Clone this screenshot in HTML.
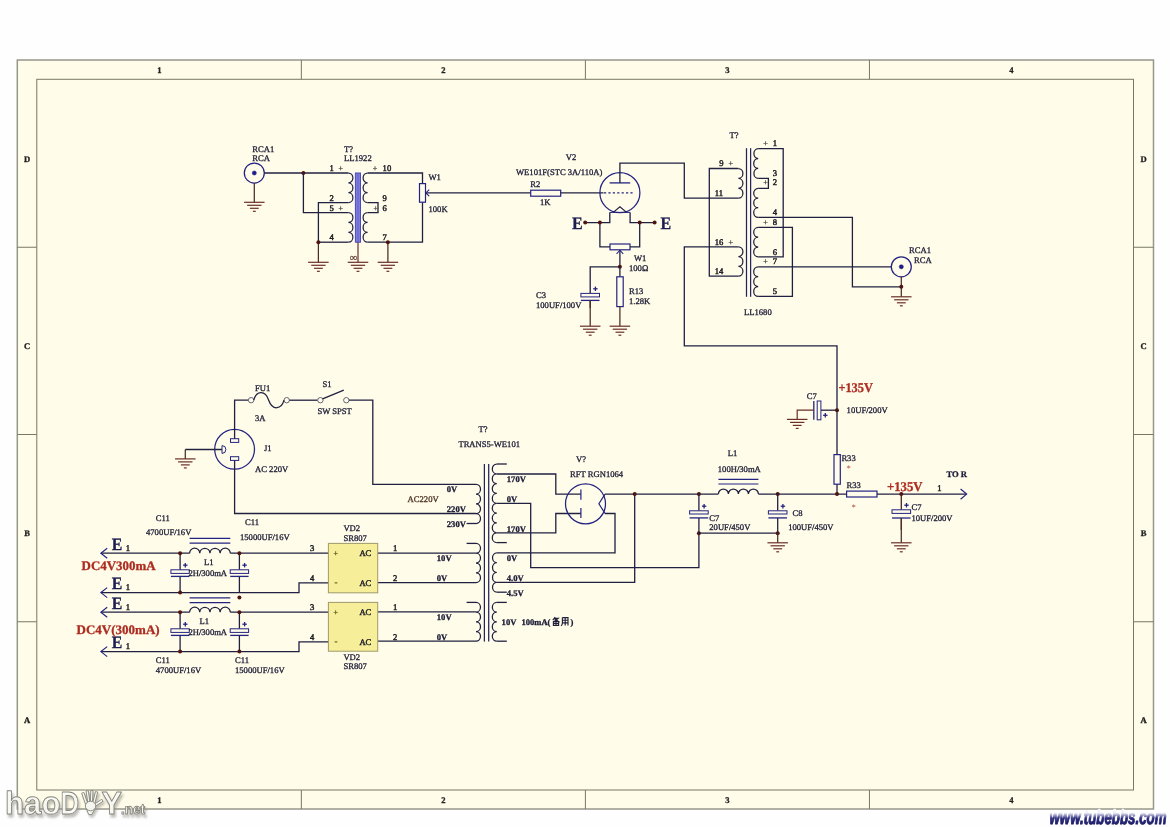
<!DOCTYPE html>
<html><head><meta charset="utf-8"><title>schematic</title>
<style>
html,body{margin:0;padding:0;background:#fefefe;}
body{width:1170px;height:827px;overflow:hidden;position:relative;font-family:"Liberation Serif",serif;}
svg{position:absolute;left:0;top:0;display:block;will-change:transform;}
</style></head><body>
<svg width="1170" height="827" viewBox="0 0 1170 827" shape-rendering="geometricPrecision" text-rendering="geometricPrecision">
<defs>
<linearGradient id="tg" x1="0" y1="0" x2="0" y2="1"><stop offset="0" stop-color="#ffffff"/><stop offset="0.3" stop-color="#ececf8"/><stop offset="0.52" stop-color="#2a2a7c"/><stop offset="1" stop-color="#14145a"/></linearGradient>
<filter id="sh" x="-10%" y="-20%" width="120%" height="150%"><feGaussianBlur stdDeviation="1.1"/></filter>
<g id="wm">
<text x="5" y="814.4" font-size="32" textLength="55.5" lengthAdjust="spacingAndGlyphs">hao</text>
<text x="60.4" y="814.4" font-size="32" textLength="18.5" lengthAdjust="spacingAndGlyphs">D</text>
<path d="M86.6,809.5 L88.8,814.6 L91.6,814.6 L94.6,809.5 Z"/>
<path d="M87.6,803.1 L83.9,792.4 L81.7,793.2 L85.4,803.9 Z M89.9,801.8 L88.3,790.6 L86.1,791.0 L87.7,802.2 Z M92.5,802.1 L93.0,790.7 L90.8,790.5 L90.3,801.9 Z M94.9,803.3 L97.7,792.1 L95.5,791.5 L92.7,802.7 Z M95.1,806.5 L103.0,801.2 L101.8,799.2 L93.9,804.5 Z" stroke-linejoin="round"/>
<ellipse cx="90.6" cy="806" rx="5.2" ry="4.8"/>
<text x="101.4" y="814.4" font-size="32" textLength="20.5" lengthAdjust="spacingAndGlyphs">Y</text>
<text x="121" y="814.4" font-size="14.5" textLength="24" lengthAdjust="spacingAndGlyphs">.net</text>
</g>
</defs>
<rect x="17.3" y="60" width="1136.2" height="749" fill="#fffce9" stroke="#97978b" stroke-width="1.5"/>
<rect x="36.8" y="79.3" width="1096.7" height="710.7" fill="none" stroke="#787868" stroke-width="1"/>
<line x1="301.35" y1="60" x2="301.35" y2="79.3" stroke="#787868" stroke-width="1"/>
<line x1="301.35" y1="790" x2="301.35" y2="809" stroke="#787868" stroke-width="1"/>
<line x1="17.3" y1="247.25" x2="36.8" y2="247.25" stroke="#787868" stroke-width="1"/>
<line x1="1133.5" y1="247.25" x2="1153.5" y2="247.25" stroke="#787868" stroke-width="1"/>
<line x1="585.4" y1="60" x2="585.4" y2="79.3" stroke="#787868" stroke-width="1"/>
<line x1="585.4" y1="790" x2="585.4" y2="809" stroke="#787868" stroke-width="1"/>
<line x1="17.3" y1="434.5" x2="36.8" y2="434.5" stroke="#787868" stroke-width="1"/>
<line x1="1133.5" y1="434.5" x2="1153.5" y2="434.5" stroke="#787868" stroke-width="1"/>
<line x1="869.45" y1="60" x2="869.45" y2="79.3" stroke="#787868" stroke-width="1"/>
<line x1="869.45" y1="790" x2="869.45" y2="809" stroke="#787868" stroke-width="1"/>
<line x1="17.3" y1="621.75" x2="36.8" y2="621.75" stroke="#787868" stroke-width="1"/>
<line x1="1133.5" y1="621.75" x2="1153.5" y2="621.75" stroke="#787868" stroke-width="1"/>
<text x="159.33" y="72.8" font-family="'Liberation Serif', serif" font-size="8.6" fill="#222" stroke="#222" stroke-width="0.3" font-weight="bold" text-anchor="middle" >1</text>
<text x="159.33" y="803.3" font-family="'Liberation Serif', serif" font-size="8.6" fill="#222" stroke="#222" stroke-width="0.3" font-weight="bold" text-anchor="middle" >1</text>
<text x="443.38" y="72.8" font-family="'Liberation Serif', serif" font-size="8.6" fill="#222" stroke="#222" stroke-width="0.3" font-weight="bold" text-anchor="middle" >2</text>
<text x="443.38" y="803.3" font-family="'Liberation Serif', serif" font-size="8.6" fill="#222" stroke="#222" stroke-width="0.3" font-weight="bold" text-anchor="middle" >2</text>
<text x="727.42" y="72.8" font-family="'Liberation Serif', serif" font-size="8.6" fill="#222" stroke="#222" stroke-width="0.3" font-weight="bold" text-anchor="middle" >3</text>
<text x="727.42" y="803.3" font-family="'Liberation Serif', serif" font-size="8.6" fill="#222" stroke="#222" stroke-width="0.3" font-weight="bold" text-anchor="middle" >3</text>
<text x="1011.48" y="72.8" font-family="'Liberation Serif', serif" font-size="8.6" fill="#222" stroke="#222" stroke-width="0.3" font-weight="bold" text-anchor="middle" >4</text>
<text x="1011.48" y="803.3" font-family="'Liberation Serif', serif" font-size="8.6" fill="#222" stroke="#222" stroke-width="0.3" font-weight="bold" text-anchor="middle" >4</text>
<text x="27" y="161.62" font-family="'Liberation Serif', serif" font-size="8.6" fill="#222" stroke="#222" stroke-width="0.3" font-weight="bold" text-anchor="middle" >D</text>
<text x="1143.5" y="161.62" font-family="'Liberation Serif', serif" font-size="8.6" fill="#222" stroke="#222" stroke-width="0.3" font-weight="bold" text-anchor="middle" >D</text>
<text x="27" y="348.88" font-family="'Liberation Serif', serif" font-size="8.6" fill="#222" stroke="#222" stroke-width="0.3" font-weight="bold" text-anchor="middle" >C</text>
<text x="1143.5" y="348.88" font-family="'Liberation Serif', serif" font-size="8.6" fill="#222" stroke="#222" stroke-width="0.3" font-weight="bold" text-anchor="middle" >C</text>
<text x="27" y="536.12" font-family="'Liberation Serif', serif" font-size="8.6" fill="#222" stroke="#222" stroke-width="0.3" font-weight="bold" text-anchor="middle" >B</text>
<text x="1143.5" y="536.12" font-family="'Liberation Serif', serif" font-size="8.6" fill="#222" stroke="#222" stroke-width="0.3" font-weight="bold" text-anchor="middle" >B</text>
<text x="27" y="723.38" font-family="'Liberation Serif', serif" font-size="8.6" fill="#222" stroke="#222" stroke-width="0.3" font-weight="bold" text-anchor="middle" >A</text>
<text x="1143.5" y="723.38" font-family="'Liberation Serif', serif" font-size="8.6" fill="#222" stroke="#222" stroke-width="0.3" font-weight="bold" text-anchor="middle" >A</text>
<circle cx="254.3" cy="173" r="10" fill="none" stroke="#232382" stroke-width="1.25"/>
<circle cx="254.3" cy="173" r="2.1" fill="#1c1c8c" stroke="#232382" stroke-width="0.5"/>
<line x1="254.3" y1="183" x2="254.3" y2="202.3" stroke="#4a2c28" stroke-width="1.25"/>
<line x1="244.05" y1="202.3" x2="264.55" y2="202.3" stroke="#6a2e26" stroke-width="1.2"/>
<line x1="247.12" y1="205.3" x2="261.48" y2="205.3" stroke="#6a2e26" stroke-width="1.2"/>
<line x1="249.89" y1="208.3" x2="258.71" y2="208.3" stroke="#6a2e26" stroke-width="1.2"/>
<line x1="252.87" y1="211.3" x2="255.74" y2="211.3" stroke="#6a2e26" stroke-width="1.2"/>
<polyline points="264.3,173 348.4,173" fill="none" stroke="#202042" stroke-width="1.3" />
<circle cx="303.4" cy="173" r="2.0" fill="#4e1410"/>
<polyline points="303.4,173 303.4,212.6 348.4,212.6" fill="none" stroke="#202042" stroke-width="1.3" />
<polyline points="348.4,202.6 318.4,202.6 318.4,242.2" fill="none" stroke="#202042" stroke-width="1.3" />
<polyline points="318.4,242.2 348.4,242.2" fill="none" stroke="#202042" stroke-width="1.3" />
<line x1="318.4" y1="242.2" x2="318.4" y2="262.3" stroke="#4a2c28" stroke-width="1.25"/>
<line x1="308.15" y1="262.3" x2="328.65" y2="262.3" stroke="#6a2e26" stroke-width="1.2"/>
<line x1="311.22" y1="265.3" x2="325.57" y2="265.3" stroke="#6a2e26" stroke-width="1.2"/>
<line x1="313.99" y1="268.3" x2="322.81" y2="268.3" stroke="#6a2e26" stroke-width="1.2"/>
<line x1="316.96" y1="271.3" x2="319.83" y2="271.3" stroke="#6a2e26" stroke-width="1.2"/>
<circle cx="318.4" cy="242.2" r="2.0" fill="#4e1410"/>
<path d="M348.4,173 A4.5,4.93 0 0 1 348.4,182.87 A4.5,4.93 0 0 1 348.4,192.73 A4.5,4.93 0 0 1 348.4,202.6" fill="none" stroke="#202042" stroke-width="1.25" />
<path d="M348.4,212.6 A4.5,4.93 0 0 1 348.4,222.47 A4.5,4.93 0 0 1 348.4,232.33 A4.5,4.93 0 0 1 348.4,242.2" fill="none" stroke="#202042" stroke-width="1.25" />
<rect x="355.4" y="173" width="5.1" height="69.2" fill="#7d7de0" stroke="#4a4ab8" stroke-width="1.0"/>
<line x1="358" y1="173" x2="358" y2="242.2" stroke="#5a5ac8" stroke-width="0.8"/>
<line x1="358" y1="242.2" x2="358" y2="262.3" stroke="#6a2e26" stroke-width="1.2"/>
<line x1="347.75" y1="262.3" x2="368.25" y2="262.3" stroke="#6a2e26" stroke-width="1.2"/>
<line x1="350.82" y1="265.3" x2="365.18" y2="265.3" stroke="#6a2e26" stroke-width="1.2"/>
<line x1="353.59" y1="268.3" x2="362.41" y2="268.3" stroke="#6a2e26" stroke-width="1.2"/>
<line x1="356.56" y1="271.3" x2="359.44" y2="271.3" stroke="#6a2e26" stroke-width="1.2"/>
<text x="349.8" y="261.4" font-family="'Liberation Serif', serif" font-size="10.5" fill="#5a3a34" stroke="#5a3a34" stroke-width="0.25" >∞</text>
<path d="M367.6,173 A4.5,4.93 0 0 0 367.6,182.87 A4.5,4.93 0 0 0 367.6,192.73 A4.5,4.93 0 0 0 367.6,202.6" fill="none" stroke="#202042" stroke-width="1.25" />
<path d="M367.6,212.6 A4.5,4.93 0 0 0 367.6,222.47 A4.5,4.93 0 0 0 367.6,232.33 A4.5,4.93 0 0 0 367.6,242.2" fill="none" stroke="#202042" stroke-width="1.25" />
<polyline points="367.6,173 422.5,173 422.5,183.6" fill="none" stroke="#202042" stroke-width="1.3" />
<polyline points="367.6,202.6 378,202.6 378,212.6 367.6,212.6" fill="none" stroke="#202042" stroke-width="1.3" />
<polyline points="367.6,242.2 422.5,242.2 422.5,202.2" fill="none" stroke="#202042" stroke-width="1.3" />
<line x1="387.9" y1="242.2" x2="387.9" y2="262.3" stroke="#4a2c28" stroke-width="1.25"/>
<line x1="377.65" y1="262.3" x2="398.15" y2="262.3" stroke="#6a2e26" stroke-width="1.2"/>
<line x1="380.72" y1="265.3" x2="395.07" y2="265.3" stroke="#6a2e26" stroke-width="1.2"/>
<line x1="383.49" y1="268.3" x2="392.31" y2="268.3" stroke="#6a2e26" stroke-width="1.2"/>
<line x1="386.46" y1="271.3" x2="389.33" y2="271.3" stroke="#6a2e26" stroke-width="1.2"/>
<circle cx="387.9" cy="242.2" r="2.0" fill="#4e1410"/>
<rect x="419.5" y="183.6" width="6" height="18.6" fill="#fffce9" stroke="#232382" stroke-width="1.2"/>
<polyline points="425.8,192.9 530.7,192.9" fill="none" stroke="#202042" stroke-width="1.3" />
<polyline points="429.2,189.6 425.8,192.9 429.2,196.2" fill="none" stroke="#232382" stroke-width="1.1" />
<rect x="530.7" y="190.2" width="30" height="6" fill="#fffce9" stroke="#232382" stroke-width="1.2"/>
<polyline points="560.7,192.9 603.5,192.9" fill="none" stroke="#202042" stroke-width="1.3" />
<text x="252.3" y="151.7" font-family="'Liberation Serif', serif" font-size="8.6" fill="#1c1c36" stroke="#1c1c36" stroke-width="0.3" >RCA1</text>
<text x="252.3" y="161.3" font-family="'Liberation Serif', serif" font-size="8.6" fill="#1c1c36" stroke="#1c1c36" stroke-width="0.3" >RCA</text>
<text x="344" y="151.7" font-family="'Liberation Serif', serif" font-size="8.6" fill="#1c1c36" stroke="#1c1c36" stroke-width="0.3" >T?</text>
<text x="344" y="161.3" font-family="'Liberation Serif', serif" font-size="8.6" fill="#1c1c36" stroke="#1c1c36" stroke-width="0.3" >LL1922</text>
<text x="329.5" y="171.2" font-family="'Liberation Serif', serif" font-size="8.6" fill="#1a1a22" stroke="#1a1a22" stroke-width="0.45" >1</text>
<text x="338.5" y="171" font-family="'Liberation Serif', serif" font-size="8" fill="#444" stroke="#444" stroke-width="0.3" >+</text>
<text x="329.5" y="200.8" font-family="'Liberation Serif', serif" font-size="8.6" fill="#1a1a22" stroke="#1a1a22" stroke-width="0.45" >2</text>
<text x="329.5" y="210.8" font-family="'Liberation Serif', serif" font-size="8.6" fill="#1a1a22" stroke="#1a1a22" stroke-width="0.45" >5</text>
<text x="338.5" y="210.6" font-family="'Liberation Serif', serif" font-size="8" fill="#444" stroke="#444" stroke-width="0.3" >+</text>
<text x="329.5" y="240.4" font-family="'Liberation Serif', serif" font-size="8.6" fill="#1a1a22" stroke="#1a1a22" stroke-width="0.45" >4</text>
<text x="372.8" y="171" font-family="'Liberation Serif', serif" font-size="8" fill="#444" stroke="#444" stroke-width="0.3" >+</text>
<text x="382.6" y="171.2" font-family="'Liberation Serif', serif" font-size="8.6" fill="#1a1a22" stroke="#1a1a22" stroke-width="0.45" >10</text>
<text x="382.6" y="200.8" font-family="'Liberation Serif', serif" font-size="8.6" fill="#1a1a22" stroke="#1a1a22" stroke-width="0.45" >9</text>
<text x="373.6" y="210.6" font-family="'Liberation Serif', serif" font-size="8" fill="#444" stroke="#444" stroke-width="0.3" >+</text>
<text x="382.6" y="210.8" font-family="'Liberation Serif', serif" font-size="8.6" fill="#1a1a22" stroke="#1a1a22" stroke-width="0.45" >6</text>
<text x="382.6" y="240.4" font-family="'Liberation Serif', serif" font-size="8.6" fill="#1a1a22" stroke="#1a1a22" stroke-width="0.45" >7</text>
<text x="428.5" y="180.2" font-family="'Liberation Serif', serif" font-size="8.6" fill="#1c1c36" stroke="#1c1c36" stroke-width="0.3" >W1</text>
<text x="428.5" y="211.6" font-family="'Liberation Serif', serif" font-size="8.6" fill="#1c1c36" stroke="#1c1c36" stroke-width="0.3" >100K</text>
<text x="565.8" y="160.2" font-family="'Liberation Serif', serif" font-size="8.6" fill="#1c1c36" stroke="#1c1c36" stroke-width="0.3" >V2</text>
<text x="516" y="175.2" font-family="'Liberation Serif', serif" font-size="8.6" fill="#1c1c36" stroke="#1c1c36" stroke-width="0.3" >WE101F(STC 3A/110A)</text>
<text x="530.3" y="187.4" font-family="'Liberation Serif', serif" font-size="8.6" fill="#1c1c36" stroke="#1c1c36" stroke-width="0.3" >R2</text>
<text x="540" y="204.6" font-family="'Liberation Serif', serif" font-size="8.6" fill="#1c1c36" stroke="#1c1c36" stroke-width="0.3" >1K</text>
<circle cx="619.9" cy="192.7" r="20" fill="none" stroke="#232382" stroke-width="1.25"/>
<line x1="609.6" y1="182.9" x2="630.2" y2="182.9" stroke="#232382" stroke-width="1.3"/>
<polyline points="619.9,182.9 619.9,163.1 684.3,163.1 684.3,198.2 738.4,198.2" fill="none" stroke="#202042" stroke-width="1.3" />
<line x1="604" y1="192.9" x2="634" y2="192.9" stroke="#232382" stroke-width="1.2" stroke-dasharray="2.2,2.2"/>
<polyline points="609.6,212.4 630.2,212.4" fill="none" stroke="#232382" stroke-width="1.0" />
<polyline points="613.2,212.4 619.9,206.7 626.6,212.4" fill="none" stroke="#202042" stroke-width="1.2" />
<polyline points="609.8,212.4 609.8,222.6 585.2,222.6" fill="none" stroke="#202042" stroke-width="1.3" />
<polyline points="630.1,212.4 630.1,222.6 654.6,222.6" fill="none" stroke="#202042" stroke-width="1.3" />
<polyline points="599.9,222.6 599.9,246.9 610,246.9" fill="none" stroke="#202042" stroke-width="1.3" />
<polyline points="639.7,222.6 639.7,246.9 630,246.9" fill="none" stroke="#202042" stroke-width="1.3" />
<rect x="610" y="244" width="20" height="5.8" fill="#fffce9" stroke="#232382" stroke-width="1.2"/>
<circle cx="585.2" cy="222.6" r="2.0" fill="#4e1410"/>
<circle cx="599.9" cy="222.6" r="2.0" fill="#4e1410"/>
<circle cx="639.7" cy="222.6" r="2.0" fill="#4e1410"/>
<circle cx="654.6" cy="222.6" r="2.0" fill="#4e1410"/>
<text x="572" y="228.6" font-family="'Liberation Serif', serif" font-size="17.4" fill="#1c1c50" stroke="#1c1c50" stroke-width="0.3" font-weight="bold" textLength="10.7" lengthAdjust="spacingAndGlyphs">E</text>
<text x="660.6" y="228.6" font-family="'Liberation Serif', serif" font-size="17.4" fill="#1c1c50" stroke="#1c1c50" stroke-width="0.3" font-weight="bold" textLength="10.7" lengthAdjust="spacingAndGlyphs">E</text>
<line x1="619.9" y1="250.2" x2="619.9" y2="266.8" stroke="#202042" stroke-width="1.3"/>
<polyline points="616.6,253.8 619.9,250.2 623.2,253.8" fill="none" stroke="#232382" stroke-width="1.1" />
<polyline points="619.9,266.8 590.2,266.8 590.2,291" fill="none" stroke="#202042" stroke-width="1.3" />
<circle cx="619.9" cy="266.8" r="2.0" fill="#4e1410"/>
<line x1="590.2" y1="291" x2="590.2" y2="293.4" stroke="#202042" stroke-width="1.3"/>
<line x1="590.2" y1="300.4" x2="590.2" y2="308" stroke="#50302a" stroke-width="1.3"/>
<rect x="580.9" y="293.4" width="18.6" height="3.5" fill="#fffce9" stroke="#232382" stroke-width="1.0"/>
<line x1="580.9" y1="300.4" x2="599.5" y2="300.4" stroke="#232382" stroke-width="1.3"/>
<line x1="593.2" y1="288.8" x2="597.6" y2="288.8" stroke="#232382" stroke-width="1.3"/>
<line x1="595.4" y1="286.6" x2="595.4" y2="291" stroke="#232382" stroke-width="1.3"/>
<line x1="590.2" y1="300.4" x2="590.2" y2="326.2" stroke="#4a2c28" stroke-width="1.25"/>
<line x1="579.95" y1="326.2" x2="600.45" y2="326.2" stroke="#6a2e26" stroke-width="1.2"/>
<line x1="583.03" y1="329.2" x2="597.38" y2="329.2" stroke="#6a2e26" stroke-width="1.2"/>
<line x1="585.79" y1="332.2" x2="594.61" y2="332.2" stroke="#6a2e26" stroke-width="1.2"/>
<line x1="588.77" y1="335.2" x2="591.63" y2="335.2" stroke="#6a2e26" stroke-width="1.2"/>
<line x1="619.9" y1="266.8" x2="619.9" y2="276.8" stroke="#202042" stroke-width="1.3"/>
<rect x="616.8" y="276.8" width="6.4" height="29.8" fill="#fffce9" stroke="#232382" stroke-width="1.2"/>
<line x1="619.9" y1="306.6" x2="619.9" y2="326.2" stroke="#4a2c28" stroke-width="1.25"/>
<line x1="609.65" y1="326.2" x2="630.15" y2="326.2" stroke="#6a2e26" stroke-width="1.2"/>
<line x1="612.73" y1="329.2" x2="627.07" y2="329.2" stroke="#6a2e26" stroke-width="1.2"/>
<line x1="615.49" y1="332.2" x2="624.31" y2="332.2" stroke="#6a2e26" stroke-width="1.2"/>
<line x1="618.47" y1="335.2" x2="621.33" y2="335.2" stroke="#6a2e26" stroke-width="1.2"/>
<text x="634" y="260.8" font-family="'Liberation Serif', serif" font-size="8.6" fill="#1c1c36" stroke="#1c1c36" stroke-width="0.3" >W1</text>
<text x="629" y="270.8" font-family="'Liberation Serif', serif" font-size="8.6" fill="#1c1c36" stroke="#1c1c36" stroke-width="0.3" >100Ω</text>
<text x="629" y="294.2" font-family="'Liberation Serif', serif" font-size="8.6" fill="#1c1c36" stroke="#1c1c36" stroke-width="0.3" >R13</text>
<text x="629" y="303.6" font-family="'Liberation Serif', serif" font-size="8.6" fill="#1c1c36" stroke="#1c1c36" stroke-width="0.3" >1.28K</text>
<text x="536" y="298.4" font-family="'Liberation Serif', serif" font-size="8.6" fill="#1c1c36" stroke="#1c1c36" stroke-width="0.3" >C3</text>
<text x="536" y="307.8" font-family="'Liberation Serif', serif" font-size="8.6" fill="#1c1c36" stroke="#1c1c36" stroke-width="0.3" >100UF/100V</text>
<line x1="746.5" y1="148.2" x2="746.5" y2="296.8" stroke="#23235e" stroke-width="1.25"/>
<line x1="750.6" y1="148.2" x2="750.6" y2="296.8" stroke="#23235e" stroke-width="1.25"/>
<path d="M738.4,168.5 A4.5,4.95 0 0 1 738.4,178.4 A4.5,4.95 0 0 1 738.4,188.3 A4.5,4.95 0 0 1 738.4,198.2" fill="none" stroke="#202042" stroke-width="1.25" />
<path d="M738.4,246.8 A4.5,4.9 0 0 1 738.4,256.6 A4.5,4.9 0 0 1 738.4,266.4 A4.5,4.9 0 0 1 738.4,276.2" fill="none" stroke="#202042" stroke-width="1.25" />
<polyline points="738.4,168.5 709.3,168.5 709.3,276.2 738.4,276.2" fill="none" stroke="#202042" stroke-width="1.3" />
<polyline points="738.4,246.8 684.3,246.8 684.3,345.8 837,345.8 837,454.6" fill="none" stroke="#202042" stroke-width="1.3" />
<path d="M758.2,148.6 A4.5,4.97 0 0 0 758.2,158.53 A4.5,4.97 0 0 0 758.2,168.47 A4.5,4.97 0 0 0 758.2,178.4" fill="none" stroke="#202042" stroke-width="1.25" />
<path d="M758.2,188.4 A4.5,4.83 0 0 0 758.2,198.07 A4.5,4.83 0 0 0 758.2,207.73 A4.5,4.83 0 0 0 758.2,217.4" fill="none" stroke="#202042" stroke-width="1.25" />
<path d="M758.2,227.4 A4.5,4.9 0 0 0 758.2,237.2 A4.5,4.9 0 0 0 758.2,247 A4.5,4.9 0 0 0 758.2,256.8" fill="none" stroke="#202042" stroke-width="1.25" />
<path d="M758.2,266.8 A4.5,4.93 0 0 0 758.2,276.67 A4.5,4.93 0 0 0 758.2,286.53 A4.5,4.93 0 0 0 758.2,296.4" fill="none" stroke="#202042" stroke-width="1.25" />
<polyline points="758.2,148.6 783.2,148.6 783.2,256.8 758.2,256.8" fill="none" stroke="#202042" stroke-width="1.3" />
<polyline points="758.2,178.4 768.4,178.4 768.4,188.4 758.2,188.4" fill="none" stroke="#202042" stroke-width="1.3" />
<polyline points="758.2,217.4 852.4,217.4 852.4,286.8 901.3,286.8" fill="none" stroke="#202042" stroke-width="1.3" />
<polyline points="758.2,227.4 792.4,227.4 792.4,296.4 758.2,296.4" fill="none" stroke="#202042" stroke-width="1.3" />
<polyline points="758.2,266.8 891.3,266.8" fill="none" stroke="#202042" stroke-width="1.3" />
<circle cx="901.3" cy="266.8" r="10" fill="none" stroke="#232382" stroke-width="1.25"/>
<circle cx="901.3" cy="266.8" r="2.1" fill="#1c1c8c" stroke="#232382" stroke-width="0.5"/>
<line x1="901.3" y1="276.8" x2="901.3" y2="296.8" stroke="#4a2c28" stroke-width="1.25"/>
<line x1="891.05" y1="296.8" x2="911.55" y2="296.8" stroke="#6a2e26" stroke-width="1.2"/>
<line x1="894.12" y1="299.8" x2="908.47" y2="299.8" stroke="#6a2e26" stroke-width="1.2"/>
<line x1="896.89" y1="302.8" x2="905.71" y2="302.8" stroke="#6a2e26" stroke-width="1.2"/>
<line x1="899.87" y1="305.8" x2="902.73" y2="305.8" stroke="#6a2e26" stroke-width="1.2"/>
<circle cx="901.3" cy="286.8" r="2.0" fill="#4e1410"/>
<text x="729.4" y="137.8" font-family="'Liberation Serif', serif" font-size="8.6" fill="#1c1c36" stroke="#1c1c36" stroke-width="0.3" >T?</text>
<text x="744" y="315.2" font-family="'Liberation Serif', serif" font-size="8.6" fill="#1c1c36" stroke="#1c1c36" stroke-width="0.3" >LL1680</text>
<text x="772.8" y="146" font-family="'Liberation Serif', serif" font-size="8.6" fill="#1a1a22" stroke="#1a1a22" stroke-width="0.45" >1</text>
<text x="763.2" y="145.8" font-family="'Liberation Serif', serif" font-size="8" fill="#444" stroke="#444" stroke-width="0.3" >+</text>
<text x="772.8" y="175.8" font-family="'Liberation Serif', serif" font-size="8.6" fill="#1a1a22" stroke="#1a1a22" stroke-width="0.45" >3</text>
<text x="772.8" y="185.2" font-family="'Liberation Serif', serif" font-size="8.6" fill="#1a1a22" stroke="#1a1a22" stroke-width="0.45" >2</text>
<text x="763.2" y="185" font-family="'Liberation Serif', serif" font-size="8" fill="#444" stroke="#444" stroke-width="0.3" >+</text>
<text x="772.8" y="215" font-family="'Liberation Serif', serif" font-size="8.6" fill="#1a1a22" stroke="#1a1a22" stroke-width="0.45" >4</text>
<text x="772.8" y="225" font-family="'Liberation Serif', serif" font-size="8.6" fill="#1a1a22" stroke="#1a1a22" stroke-width="0.45" >8</text>
<text x="763.2" y="224.8" font-family="'Liberation Serif', serif" font-size="8" fill="#444" stroke="#444" stroke-width="0.3" >+</text>
<text x="772.8" y="255" font-family="'Liberation Serif', serif" font-size="8.6" fill="#1a1a22" stroke="#1a1a22" stroke-width="0.45" >6</text>
<text x="772.8" y="264.4" font-family="'Liberation Serif', serif" font-size="8.6" fill="#1a1a22" stroke="#1a1a22" stroke-width="0.45" >7</text>
<text x="763.2" y="264.2" font-family="'Liberation Serif', serif" font-size="8" fill="#444" stroke="#444" stroke-width="0.3" >+</text>
<text x="772.8" y="294.4" font-family="'Liberation Serif', serif" font-size="8.6" fill="#1a1a22" stroke="#1a1a22" stroke-width="0.45" >5</text>
<text x="719.2" y="165.8" font-family="'Liberation Serif', serif" font-size="8.6" fill="#1a1a22" stroke="#1a1a22" stroke-width="0.45" >9</text>
<text x="728.4" y="165.6" font-family="'Liberation Serif', serif" font-size="8" fill="#444" stroke="#444" stroke-width="0.3" >+</text>
<text x="714.8" y="195.6" font-family="'Liberation Serif', serif" font-size="8.6" fill="#1a1a22" stroke="#1a1a22" stroke-width="0.45" >11</text>
<text x="714.8" y="245" font-family="'Liberation Serif', serif" font-size="8.6" fill="#1a1a22" stroke="#1a1a22" stroke-width="0.45" >16</text>
<text x="728.4" y="244.8" font-family="'Liberation Serif', serif" font-size="8" fill="#444" stroke="#444" stroke-width="0.3" >+</text>
<text x="714.8" y="274.4" font-family="'Liberation Serif', serif" font-size="8.6" fill="#1a1a22" stroke="#1a1a22" stroke-width="0.45" >14</text>
<text x="909" y="252.8" font-family="'Liberation Serif', serif" font-size="8.6" fill="#1c1c36" stroke="#1c1c36" stroke-width="0.3" >RCA1</text>
<text x="914" y="262.8" font-family="'Liberation Serif', serif" font-size="8.6" fill="#1c1c36" stroke="#1c1c36" stroke-width="0.3" >RCA</text>
<text x="838.4" y="392.3" font-family="'Liberation Serif', serif" font-size="13.4" fill="#ad2c22" stroke="#ad2c22" stroke-width="0.3" font-weight="bold" textLength="34.5" lengthAdjust="spacingAndGlyphs">+135V</text>
<polyline points="837,410.2 821,410.2" fill="none" stroke="#202042" stroke-width="1.3" />
<rect x="817.2" y="401" width="3.7" height="18.8" fill="#fffce9" stroke="#232382" stroke-width="1.0"/>
<line x1="813.8" y1="401" x2="813.8" y2="419.8" stroke="#232382" stroke-width="1.3"/>
<polyline points="813.8,410.2 797.2,410.2 797.2,419.4" fill="none" stroke="#6a2e26" stroke-width="1.2" />
<line x1="786.95" y1="419.4" x2="807.45" y2="419.4" stroke="#6a2e26" stroke-width="1.2"/>
<line x1="790.03" y1="422.4" x2="804.38" y2="422.4" stroke="#6a2e26" stroke-width="1.2"/>
<line x1="792.79" y1="425.4" x2="801.61" y2="425.4" stroke="#6a2e26" stroke-width="1.2"/>
<line x1="795.77" y1="428.4" x2="798.63" y2="428.4" stroke="#6a2e26" stroke-width="1.2"/>
<circle cx="837" cy="410.2" r="2.0" fill="#4e1410"/>
<line x1="823.1" y1="415.3" x2="827.5" y2="415.3" stroke="#232382" stroke-width="1.3"/>
<line x1="825.3" y1="413.1" x2="825.3" y2="417.5" stroke="#232382" stroke-width="1.3"/>
<text x="806.8" y="398.6" font-family="'Liberation Serif', serif" font-size="8.6" fill="#1c1c36" stroke="#1c1c36" stroke-width="0.3" >C7</text>
<text x="846.6" y="413" font-family="'Liberation Serif', serif" font-size="8.6" fill="#1c1c36" stroke="#1c1c36" stroke-width="0.3" >10UF/200V</text>
<rect x="834" y="454.6" width="6.3" height="29.6" fill="#fffce9" stroke="#232382" stroke-width="1.2"/>
<line x1="837" y1="484.2" x2="837" y2="494.1" stroke="#202042" stroke-width="1.3"/>
<text x="841.4" y="460.8" font-family="'Liberation Serif', serif" font-size="8.6" fill="#1c1c36" stroke="#1c1c36" stroke-width="0.3" >R33</text>
<text x="846.4" y="470.6" font-family="'Liberation Serif', serif" font-size="8.5" fill="#c0604e" stroke="#c0604e" stroke-width="0.1" >*</text>
<text x="846.6" y="487.6" font-family="'Liberation Serif', serif" font-size="8.6" fill="#1c1c36" stroke="#1c1c36" stroke-width="0.3" >R33</text>
<text x="851.4" y="510" font-family="'Liberation Serif', serif" font-size="8.5" fill="#c0604e" stroke="#c0604e" stroke-width="0.1" >*</text>
<circle cx="234.6" cy="449.3" r="19.9" fill="none" stroke="#232382" stroke-width="1.25"/>
<rect x="230.5" y="438.7" width="8.2" height="3.7" fill="#fffce9" stroke="#232382" stroke-width="1.0"/>
<rect x="230.5" y="456.7" width="8.2" height="3.7" fill="#fffce9" stroke="#232382" stroke-width="1.0"/>
<path d="M222,445.6 L222,453.4 A3.9,3.9 0 0 0 222,445.6 Z" fill="#fffce9" stroke="#232382" stroke-width="1.0" />
<polyline points="222,449.5 185.3,449.5" fill="none" stroke="#202042" stroke-width="1.3" />
<line x1="185.3" y1="449.5" x2="185.3" y2="458.9" stroke="#4a2c28" stroke-width="1.25"/>
<line x1="175.05" y1="458.9" x2="195.55" y2="458.9" stroke="#6a2e26" stroke-width="1.2"/>
<line x1="178.12" y1="461.9" x2="192.48" y2="461.9" stroke="#6a2e26" stroke-width="1.2"/>
<line x1="180.89" y1="464.9" x2="189.71" y2="464.9" stroke="#6a2e26" stroke-width="1.2"/>
<line x1="183.87" y1="467.9" x2="186.74" y2="467.9" stroke="#6a2e26" stroke-width="1.2"/>
<polyline points="234.6,438.7 234.6,400.2 248.4,400.2" fill="none" stroke="#202042" stroke-width="1.3" />
<polyline points="234.6,460.4 234.6,513.5 476,513.5" fill="none" stroke="#202042" stroke-width="1.3" />
<circle cx="251.1" cy="400.2" r="2.7" fill="#fffce9" stroke="#55556a" stroke-width="0.9"/>
<circle cx="286.7" cy="400.2" r="2.7" fill="#fffce9" stroke="#55556a" stroke-width="0.9"/>
<path d="M253.8,400.2 C256,391 265,389.5 268.7,400.2 C272.5,411 281.5,409.5 284,400.2" fill="none" stroke="#202042" stroke-width="1.25" />
<polyline points="289.4,400.2 317.7,400.2" fill="none" stroke="#202042" stroke-width="1.3" />
<circle cx="320.4" cy="400.2" r="2.7" fill="#fffce9" stroke="#55556a" stroke-width="0.9"/>
<circle cx="346.3" cy="400.2" r="2.7" fill="#fffce9" stroke="#55556a" stroke-width="0.9"/>
<line x1="322.6" y1="398.8" x2="343.8" y2="390.1" stroke="#202042" stroke-width="1.3"/>
<polyline points="349,400.2 372.8,400.2 372.8,484.3 476,484.3" fill="none" stroke="#202042" stroke-width="1.3" />
<text x="255" y="390.6" font-family="'Liberation Serif', serif" font-size="8.6" fill="#1c1c36" stroke="#1c1c36" stroke-width="0.3" >FU1</text>
<text x="255" y="421" font-family="'Liberation Serif', serif" font-size="8.6" fill="#1c1c36" stroke="#1c1c36" stroke-width="0.3" >3A</text>
<text x="322.4" y="387.4" font-family="'Liberation Serif', serif" font-size="8.6" fill="#1c1c36" stroke="#1c1c36" stroke-width="0.3" >S1</text>
<text x="317.4" y="414.4" font-family="'Liberation Serif', serif" font-size="8.6" fill="#1c1c36" stroke="#1c1c36" stroke-width="0.3" >SW SPST</text>
<text x="264" y="451.2" font-family="'Liberation Serif', serif" font-size="8.6" fill="#1c1c36" stroke="#1c1c36" stroke-width="0.3" >J1</text>
<text x="255" y="471.6" font-family="'Liberation Serif', serif" font-size="8.6" fill="#1c1c36" stroke="#1c1c36" stroke-width="0.3" >AC 220V</text>
<text x="407.6" y="501.8" font-family="'Liberation Serif', serif" font-size="8.6" fill="#4e3426" stroke="#4e3426" stroke-width="0.3" >AC220V</text>
<line x1="484.4" y1="464" x2="484.4" y2="641.6" stroke="#23235e" stroke-width="1.25"/>
<line x1="488.7" y1="464" x2="488.7" y2="641.6" stroke="#23235e" stroke-width="1.25"/>
<path d="M476,484.3 A4.5,4.9 0 0 1 476,494.1 A4.5,4.9 0 0 1 476,503.9 A4.5,4.9 0 0 1 476,513.7 A4.5,4.9 0 0 1 476,523.5" fill="none" stroke="#202042" stroke-width="1.25" />
<polyline points="466.6,523.5 476,523.5" fill="none" stroke="#202042" stroke-width="1.3" />
<path d="M476,543.4 A4.5,4.9 0 0 1 476,553.2 A4.5,4.9 0 0 1 476,563 A4.5,4.9 0 0 1 476,572.8 A4.5,4.9 0 0 1 476,582.6" fill="none" stroke="#202042" stroke-width="1.25" />
<polyline points="466.6,543.4 476,543.4" fill="none" stroke="#202042" stroke-width="1.3" />
<path d="M476,602.4 A4.5,4.85 0 0 1 476,612.1 A4.5,4.85 0 0 1 476,621.8 A4.5,4.85 0 0 1 476,631.5 A4.5,4.85 0 0 1 476,641.2" fill="none" stroke="#202042" stroke-width="1.25" />
<polyline points="466.6,602.4 476,602.4" fill="none" stroke="#202042" stroke-width="1.3" />
<polyline points="377.7,553.2 476,553.2" fill="none" stroke="#202042" stroke-width="1.3" />
<polyline points="377.7,582.6 476,582.6" fill="none" stroke="#202042" stroke-width="1.3" />
<polyline points="377.7,611.8 476,611.8" fill="none" stroke="#202042" stroke-width="1.3" />
<polyline points="377.7,641.2 476,641.2" fill="none" stroke="#202042" stroke-width="1.3" />
<path d="M496.8,464 A4.5,4.91 0 0 0 496.8,473.82 A4.5,4.91 0 0 0 496.8,483.65 A4.5,4.91 0 0 0 496.8,493.48 A4.5,4.91 0 0 0 496.8,503.3 A4.5,4.91 0 0 0 496.8,513.12 A4.5,4.91 0 0 0 496.8,522.95 A4.5,4.91 0 0 0 496.8,532.77 A4.5,4.91 0 0 0 496.8,542.6" fill="none" stroke="#202042" stroke-width="1.25" />
<polyline points="496.8,464 506.8,464" fill="none" stroke="#202042" stroke-width="1.3" />
<polyline points="496.8,542.6 506.8,542.6" fill="none" stroke="#202042" stroke-width="1.3" />
<polyline points="496.8,474 555.8,474 555.8,494.1 580.9,494.1" fill="none" stroke="#202042" stroke-width="1.3" />
<polyline points="496.8,532.8 555.8,532.8 555.8,513.5 580.9,513.5" fill="none" stroke="#202042" stroke-width="1.3" />
<polyline points="496.8,503.4 530.7,503.4 530.7,567.6 698.9,567.6 698.9,533.2" fill="none" stroke="#202042" stroke-width="1.3" />
<path d="M496.8,552.8 A4.5,4.93 0 0 0 496.8,562.65 A4.5,4.93 0 0 0 496.8,572.5 A4.5,4.93 0 0 0 496.8,582.35 A4.5,4.93 0 0 0 496.8,592.2" fill="none" stroke="#202042" stroke-width="1.25" />
<polyline points="496.8,552.8 615,552.8 615,513.5 605,513.5" fill="none" stroke="#202042" stroke-width="1.3" />
<polyline points="496.8,582.4 634.7,582.4 634.7,494.1" fill="none" stroke="#202042" stroke-width="1.3" />
<polyline points="496.8,592.2 506.8,592.2" fill="none" stroke="#202042" stroke-width="1.3" />
<path d="M496.8,602.4 A4.5,4.85 0 0 0 496.8,612.1 A4.5,4.85 0 0 0 496.8,621.8 A4.5,4.85 0 0 0 496.8,631.5 A4.5,4.85 0 0 0 496.8,641.2" fill="none" stroke="#202042" stroke-width="1.25" />
<polyline points="496.8,602.4 506.8,602.4" fill="none" stroke="#202042" stroke-width="1.3" />
<polyline points="496.8,641.2 506.8,641.2" fill="none" stroke="#202042" stroke-width="1.3" />
<text x="478.4" y="432.4" font-family="'Liberation Serif', serif" font-size="8.6" fill="#1c1c36" stroke="#1c1c36" stroke-width="0.3" >T?</text>
<text x="458.4" y="447.4" font-family="'Liberation Serif', serif" font-size="8.6" fill="#1c1c36" stroke="#1c1c36" stroke-width="0.3" >TRANS5-WE101</text>
<text x="506.8" y="482.4" font-family="'Liberation Serif', serif" font-size="8.6" fill="#20203a" stroke="#20203a" stroke-width="0.3" font-weight="bold" >170V</text>
<text x="506.8" y="501.6" font-family="'Liberation Serif', serif" font-size="8.6" fill="#20203a" stroke="#20203a" stroke-width="0.3" font-weight="bold" >0V</text>
<text x="506.8" y="531.8" font-family="'Liberation Serif', serif" font-size="8.6" fill="#20203a" stroke="#20203a" stroke-width="0.3" font-weight="bold" >170V</text>
<text x="506.8" y="561.2" font-family="'Liberation Serif', serif" font-size="8.6" fill="#20203a" stroke="#20203a" stroke-width="0.3" font-weight="bold" >0V</text>
<text x="506.8" y="580.6" font-family="'Liberation Serif', serif" font-size="8.6" fill="#20203a" stroke="#20203a" stroke-width="0.3" font-weight="bold" >4.0V</text>
<text x="506.8" y="595.8" font-family="'Liberation Serif', serif" font-size="8.6" fill="#20203a" stroke="#20203a" stroke-width="0.3" font-weight="bold" >4.5V</text>
<text x="501.6" y="625" font-family="'Liberation Serif', serif" font-size="8.6" fill="#20203a" stroke="#20203a" stroke-width="0.3" font-weight="bold" >10V</text>
<text x="521.6" y="625" font-family="'Liberation Serif', serif" font-size="8.6" fill="#20203a" stroke="#20203a" stroke-width="0.3" font-weight="bold" textLength="26" lengthAdjust="spacingAndGlyphs">100mA</text>
<text x="547.6" y="624.6" font-family="'Liberation Serif', serif" font-size="8.6" fill="#20203a" stroke="#20203a" stroke-width="0.3" font-weight="bold" >(</text>
<text x="570.6" y="625" font-family="'Liberation Serif', serif" font-size="8.6" fill="#20203a" stroke="#20203a" stroke-width="0.3" font-weight="bold" >)</text>
<text x="446.8" y="492.4" font-family="'Liberation Serif', serif" font-size="8.6" fill="#20203a" stroke="#20203a" stroke-width="0.3" font-weight="bold" >0V</text>
<text x="446.8" y="511.6" font-family="'Liberation Serif', serif" font-size="8.6" fill="#20203a" stroke="#20203a" stroke-width="0.3" font-weight="bold" >220V</text>
<text x="446.8" y="526.8" font-family="'Liberation Serif', serif" font-size="8.6" fill="#20203a" stroke="#20203a" stroke-width="0.3" font-weight="bold" >230V</text>
<text x="436.8" y="561.2" font-family="'Liberation Serif', serif" font-size="8.6" fill="#20203a" stroke="#20203a" stroke-width="0.3" font-weight="bold" >10V</text>
<text x="436.8" y="580.6" font-family="'Liberation Serif', serif" font-size="8.6" fill="#20203a" stroke="#20203a" stroke-width="0.3" font-weight="bold" >0V</text>
<text x="436.8" y="620.2" font-family="'Liberation Serif', serif" font-size="8.6" fill="#20203a" stroke="#20203a" stroke-width="0.3" font-weight="bold" >10V</text>
<text x="436.8" y="639.8" font-family="'Liberation Serif', serif" font-size="8.6" fill="#20203a" stroke="#20203a" stroke-width="0.3" font-weight="bold" >0V</text>
<text x="393" y="551" font-family="'Liberation Serif', serif" font-size="8.6" fill="#1a1a22" stroke="#1a1a22" stroke-width="0.45" >1</text>
<text x="393" y="580.6" font-family="'Liberation Serif', serif" font-size="8.6" fill="#1a1a22" stroke="#1a1a22" stroke-width="0.45" >2</text>
<text x="393" y="610.2" font-family="'Liberation Serif', serif" font-size="8.6" fill="#1a1a22" stroke="#1a1a22" stroke-width="0.45" >1</text>
<text x="393" y="639.6" font-family="'Liberation Serif', serif" font-size="8.6" fill="#1a1a22" stroke="#1a1a22" stroke-width="0.45" >2</text>
<path d="M555.2,617.2 l-2.4,3 M554.8,618.4 h3.4 l-4.6,3.6 M554.6,618.8 l4.8,3.4" fill="none" stroke="#20203a" stroke-width="1.15" />
<path d="M553.4,621.6 h5.2 v3.8 h-5.2 z M553.4,623.5 h5.2 M556,621.6 v3.8" fill="none" stroke="#20203a" stroke-width="1.15" />
<path d="M562.4,617.6 v5.4 q0,2 -1.4,2.8 M562.4,617.6 h5.6 v8 M562.4,620.2 h5.6 M562.4,622.8 h5.6 M565.2,617.6 v8" fill="none" stroke="#20203a" stroke-width="1.15" />
<circle cx="585.5" cy="503.8" r="20" fill="none" stroke="#232382" stroke-width="1.25"/>
<line x1="580.9" y1="489.6" x2="580.9" y2="499.8" stroke="#232382" stroke-width="1.2"/>
<line x1="580.9" y1="508" x2="580.9" y2="518" stroke="#232382" stroke-width="1.2"/>
<polyline points="605,494.1 598.9,503.7 605,513.5" fill="none" stroke="#232382" stroke-width="1.2" />
<text x="576" y="462.4" font-family="'Liberation Serif', serif" font-size="8.6" fill="#1c1c36" stroke="#1c1c36" stroke-width="0.3" >V?</text>
<text x="570" y="476.8" font-family="'Liberation Serif', serif" font-size="8.6" fill="#1c1c36" stroke="#1c1c36" stroke-width="0.3" >RFT RGN1064</text>
<polyline points="605,494.1 718.4,494.1" fill="none" stroke="#202042" stroke-width="1.3" />
<circle cx="634.7" cy="494.1" r="2.0" fill="#4e1410"/>
<circle cx="698.9" cy="494.1" r="2.0" fill="#4e1410"/>
<line x1="698.9" y1="494.1" x2="698.9" y2="510.8" stroke="#202042" stroke-width="1.3"/>
<line x1="698.9" y1="517.9" x2="698.9" y2="533.2" stroke="#202042" stroke-width="1.3"/>
<rect x="689.6" y="510.8" width="18.6" height="3.2" fill="#fffce9" stroke="#232382" stroke-width="1.0"/>
<line x1="689.6" y1="517.9" x2="708.2" y2="517.9" stroke="#232382" stroke-width="1.3"/>
<line x1="701.9" y1="506.2" x2="706.3" y2="506.2" stroke="#232382" stroke-width="1.3"/>
<line x1="704.1" y1="504" x2="704.1" y2="508.4" stroke="#232382" stroke-width="1.3"/>
<circle cx="698.9" cy="533.2" r="2.0" fill="#4e1410"/>
<polyline points="698.9,533.2 777.7,533.2" fill="none" stroke="#202042" stroke-width="1.3" />
<text x="709.3" y="520.6" font-family="'Liberation Serif', serif" font-size="8.6" fill="#1c1c36" stroke="#1c1c36" stroke-width="0.3" >C7</text>
<text x="709.3" y="530.2" font-family="'Liberation Serif', serif" font-size="8.6" fill="#1c1c36" stroke="#1c1c36" stroke-width="0.3" >20UF/450V</text>
<path d="M718.4,494.1 A5,5 0 0 1 728.4,494.1 A5,5 0 0 1 738.4,494.1 A5,5 0 0 1 748.4,494.1 A5,5 0 0 1 758.4,494.1" fill="none" stroke="#202042" stroke-width="1.25" />
<line x1="718.4" y1="479.4" x2="758.4" y2="479.4" stroke="#232382" stroke-width="1.2"/>
<line x1="718.4" y1="484" x2="758.4" y2="484" stroke="#232382" stroke-width="1.2"/>
<text x="727.8" y="455.8" font-family="'Liberation Serif', serif" font-size="8.6" fill="#1c1c36" stroke="#1c1c36" stroke-width="0.3" >L1</text>
<text x="717.8" y="471.8" font-family="'Liberation Serif', serif" font-size="8.6" fill="#1c1c36" stroke="#1c1c36" stroke-width="0.3" >100H/30mA</text>
<polyline points="758.4,494.1 846.6,494.1" fill="none" stroke="#202042" stroke-width="1.3" />
<circle cx="777.7" cy="494.1" r="2.0" fill="#4e1410"/>
<line x1="777.7" y1="494.1" x2="777.7" y2="510.8" stroke="#202042" stroke-width="1.3"/>
<line x1="777.7" y1="517.9" x2="777.7" y2="533.2" stroke="#202042" stroke-width="1.3"/>
<rect x="768.4" y="510.8" width="18.6" height="3.2" fill="#fffce9" stroke="#232382" stroke-width="1.0"/>
<line x1="768.4" y1="517.9" x2="787" y2="517.9" stroke="#232382" stroke-width="1.3"/>
<line x1="780.7" y1="506.2" x2="785.1" y2="506.2" stroke="#232382" stroke-width="1.3"/>
<line x1="782.9" y1="504" x2="782.9" y2="508.4" stroke="#232382" stroke-width="1.3"/>
<circle cx="777.7" cy="533.2" r="2.0" fill="#4e1410"/>
<line x1="777.7" y1="533.2" x2="777.7" y2="542.8" stroke="#4a2c28" stroke-width="1.25"/>
<line x1="767.45" y1="542.8" x2="787.95" y2="542.8" stroke="#6a2e26" stroke-width="1.2"/>
<line x1="770.53" y1="545.8" x2="784.88" y2="545.8" stroke="#6a2e26" stroke-width="1.2"/>
<line x1="773.29" y1="548.8" x2="782.11" y2="548.8" stroke="#6a2e26" stroke-width="1.2"/>
<line x1="776.27" y1="551.8" x2="779.13" y2="551.8" stroke="#6a2e26" stroke-width="1.2"/>
<text x="792.6" y="515.6" font-family="'Liberation Serif', serif" font-size="8.6" fill="#1c1c36" stroke="#1c1c36" stroke-width="0.3" >C8</text>
<text x="788.2" y="530.2" font-family="'Liberation Serif', serif" font-size="8.6" fill="#1c1c36" stroke="#1c1c36" stroke-width="0.3" >100UF/450V</text>
<circle cx="837" cy="494.1" r="2.0" fill="#4e1410"/>
<rect x="846.6" y="491.1" width="30.4" height="5.9" fill="#fffce9" stroke="#232382" stroke-width="1.2"/>
<polyline points="877,494.1 966.4,494.1" fill="none" stroke="#202042" stroke-width="1.3" />
<polyline points="960.6,489 966.6,494.1 960.6,499.2" fill="none" stroke="#232382" stroke-width="1.2" />
<text x="887" y="491.2" font-family="'Liberation Serif', serif" font-size="13.4" fill="#ad2c22" stroke="#ad2c22" stroke-width="0.3" font-weight="bold" textLength="35.5" lengthAdjust="spacingAndGlyphs">+135V</text>
<circle cx="901.3" cy="494.1" r="2.0" fill="#4e1410"/>
<line x1="901.3" y1="494.1" x2="901.3" y2="509.8" stroke="#4a2220" stroke-width="1.3"/>
<line x1="901.3" y1="518" x2="901.3" y2="530" stroke="#6a2e26" stroke-width="1.3"/>
<rect x="892" y="509.8" width="18.6" height="3.6" fill="#fffce9" stroke="#232382" stroke-width="1.0"/>
<line x1="892" y1="518" x2="910.6" y2="518" stroke="#232382" stroke-width="1.3"/>
<line x1="904.3" y1="505.2" x2="908.7" y2="505.2" stroke="#232382" stroke-width="1.3"/>
<line x1="906.5" y1="503" x2="906.5" y2="507.4" stroke="#232382" stroke-width="1.3"/>
<line x1="901.3" y1="518" x2="901.3" y2="542.8" stroke="#4a2c28" stroke-width="1.25"/>
<line x1="891.05" y1="542.8" x2="911.55" y2="542.8" stroke="#6a2e26" stroke-width="1.2"/>
<line x1="894.12" y1="545.8" x2="908.47" y2="545.8" stroke="#6a2e26" stroke-width="1.2"/>
<line x1="896.89" y1="548.8" x2="905.71" y2="548.8" stroke="#6a2e26" stroke-width="1.2"/>
<line x1="899.87" y1="551.8" x2="902.73" y2="551.8" stroke="#6a2e26" stroke-width="1.2"/>
<text x="911.5" y="510.2" font-family="'Liberation Serif', serif" font-size="8.6" fill="#1c1c36" stroke="#1c1c36" stroke-width="0.3" >C7</text>
<text x="911.5" y="520.6" font-family="'Liberation Serif', serif" font-size="8.6" fill="#1c1c36" stroke="#1c1c36" stroke-width="0.3" >10UF/200V</text>
<text x="946.4" y="477.2" font-family="'Liberation Serif', serif" font-size="8.6" fill="#1c1c3c" stroke="#1c1c3c" stroke-width="0.3" font-weight="bold" >TO R</text>
<text x="937.3" y="491.2" font-family="'Liberation Serif', serif" font-size="8.6" fill="#1a1a22" stroke="#1a1a22" stroke-width="0.45" >1</text>
<polyline points="101,553.2 189.6,553.2" fill="none" stroke="#202042" stroke-width="1.3" />
<polyline points="230.3,553.2 328.4,553.2" fill="none" stroke="#202042" stroke-width="1.3" />
<polyline points="101,592.6 299,592.6 299,582.8 328.4,582.8" fill="none" stroke="#202042" stroke-width="1.3" />
<polyline points="107.2,548.2 100.9,553.2 107.2,558.2" fill="none" stroke="#232382" stroke-width="1.2" />
<text x="111.8" y="550" font-family="'Liberation Serif', serif" font-size="17.2" fill="#1c1c50" stroke="#1c1c50" stroke-width="0.3" font-weight="bold" textLength="10.6" lengthAdjust="spacingAndGlyphs">E</text>
<text x="125.8" y="551" font-family="'Liberation Serif', serif" font-size="8.6" fill="#1a1a22" stroke="#1a1a22" stroke-width="0.45" >1</text>
<polyline points="107.2,587.6 100.9,592.6 107.2,597.6" fill="none" stroke="#232382" stroke-width="1.2" />
<text x="111.8" y="589.4" font-family="'Liberation Serif', serif" font-size="17.2" fill="#1c1c50" stroke="#1c1c50" stroke-width="0.3" font-weight="bold" textLength="10.6" lengthAdjust="spacingAndGlyphs">E</text>
<text x="125.8" y="590.4" font-family="'Liberation Serif', serif" font-size="8.6" fill="#1a1a22" stroke="#1a1a22" stroke-width="0.45" >1</text>
<path d="M189.6,553.2 A5.09,5.09 0 0 1 199.78,553.2 A5.09,5.09 0 0 1 209.95,553.2 A5.09,5.09 0 0 1 220.12,553.2 A5.09,5.09 0 0 1 230.3,553.2" fill="none" stroke="#202042" stroke-width="1.25" />
<line x1="189.6" y1="538.4" x2="230.3" y2="538.4" stroke="#232382" stroke-width="1.2"/>
<line x1="189.6" y1="543.2" x2="230.3" y2="543.2" stroke="#232382" stroke-width="1.2"/>
<line x1="180.1" y1="553.2" x2="180.1" y2="569.8" stroke="#202042" stroke-width="1.3"/>
<line x1="180.1" y1="576.4" x2="180.1" y2="592.6" stroke="#202042" stroke-width="1.3"/>
<rect x="170.9" y="569.8" width="18.4" height="3.6" fill="#fffce9" stroke="#232382" stroke-width="1.0"/>
<line x1="170.9" y1="576.4" x2="189.3" y2="576.4" stroke="#232382" stroke-width="1.3"/>
<line x1="183.1" y1="565.2" x2="187.5" y2="565.2" stroke="#232382" stroke-width="1.3"/>
<line x1="185.3" y1="563" x2="185.3" y2="567.4" stroke="#232382" stroke-width="1.3"/>
<circle cx="180.1" cy="553.2" r="2.0" fill="#4e1410"/>
<line x1="239.4" y1="553.2" x2="239.4" y2="569.8" stroke="#202042" stroke-width="1.3"/>
<line x1="239.4" y1="576.4" x2="239.4" y2="592.6" stroke="#202042" stroke-width="1.3"/>
<rect x="230.2" y="569.8" width="18.4" height="3.6" fill="#fffce9" stroke="#232382" stroke-width="1.0"/>
<line x1="230.2" y1="576.4" x2="248.6" y2="576.4" stroke="#232382" stroke-width="1.3"/>
<line x1="242.4" y1="565.2" x2="246.8" y2="565.2" stroke="#232382" stroke-width="1.3"/>
<line x1="244.6" y1="563" x2="244.6" y2="567.4" stroke="#232382" stroke-width="1.3"/>
<circle cx="239.4" cy="553.2" r="2.0" fill="#4e1410"/>
<circle cx="180.1" cy="592.6" r="2.0" fill="#4e1410"/>
<circle cx="239.4" cy="597.6" r="2.0" fill="#4e1410"/>
<rect x="328.4" y="543.4" width="49.3" height="49.4" fill="#f6ee98" stroke="#a09a6c" stroke-width="1.0"/>
<text x="333.6" y="556" font-family="'Liberation Serif', serif" font-size="8" fill="#5a5020" stroke="#5a5020" stroke-width="0.3" >+</text>
<text x="334.6" y="585.4" font-family="'Liberation Serif', serif" font-size="9" fill="#5a5020" stroke="#5a5020" stroke-width="0.3" >-</text>
<text x="359.4" y="556.4" font-family="'Liberation Serif', serif" font-size="8.6" fill="#22222e" stroke="#22222e" stroke-width="0.4" >AC</text>
<text x="359.4" y="586" font-family="'Liberation Serif', serif" font-size="8.6" fill="#22222e" stroke="#22222e" stroke-width="0.4" >AC</text>
<text x="310" y="551.2" font-family="'Liberation Serif', serif" font-size="8.6" fill="#1a1a22" stroke="#1a1a22" stroke-width="0.45" >3</text>
<text x="310" y="580.8" font-family="'Liberation Serif', serif" font-size="8.6" fill="#1a1a22" stroke="#1a1a22" stroke-width="0.45" >4</text>
<polyline points="101,612.2 189.6,612.2" fill="none" stroke="#202042" stroke-width="1.3" />
<polyline points="230.3,612.2 328.4,612.2" fill="none" stroke="#202042" stroke-width="1.3" />
<polyline points="101,651.6 299,651.6 299,641.8 328.4,641.8" fill="none" stroke="#202042" stroke-width="1.3" />
<polyline points="107.2,607.2 100.9,612.2 107.2,617.2" fill="none" stroke="#232382" stroke-width="1.2" />
<text x="111.8" y="609" font-family="'Liberation Serif', serif" font-size="17.2" fill="#1c1c50" stroke="#1c1c50" stroke-width="0.3" font-weight="bold" textLength="10.6" lengthAdjust="spacingAndGlyphs">E</text>
<text x="125.8" y="610" font-family="'Liberation Serif', serif" font-size="8.6" fill="#1a1a22" stroke="#1a1a22" stroke-width="0.45" >1</text>
<polyline points="107.2,646.6 100.9,651.6 107.2,656.6" fill="none" stroke="#232382" stroke-width="1.2" />
<text x="111.8" y="648.4" font-family="'Liberation Serif', serif" font-size="17.2" fill="#1c1c50" stroke="#1c1c50" stroke-width="0.3" font-weight="bold" textLength="10.6" lengthAdjust="spacingAndGlyphs">E</text>
<text x="125.8" y="649.4" font-family="'Liberation Serif', serif" font-size="8.6" fill="#1a1a22" stroke="#1a1a22" stroke-width="0.45" >1</text>
<path d="M189.6,612.2 A5.09,5.09 0 0 1 199.78,612.2 A5.09,5.09 0 0 1 209.95,612.2 A5.09,5.09 0 0 1 220.12,612.2 A5.09,5.09 0 0 1 230.3,612.2" fill="none" stroke="#202042" stroke-width="1.25" />
<line x1="189.6" y1="597.8" x2="230.3" y2="597.8" stroke="#232382" stroke-width="1.2"/>
<line x1="189.6" y1="602.6" x2="230.3" y2="602.6" stroke="#232382" stroke-width="1.2"/>
<line x1="180.1" y1="612.2" x2="180.1" y2="628.8" stroke="#202042" stroke-width="1.3"/>
<line x1="180.1" y1="635.4" x2="180.1" y2="651.6" stroke="#202042" stroke-width="1.3"/>
<rect x="170.9" y="628.8" width="18.4" height="3.6" fill="#fffce9" stroke="#232382" stroke-width="1.0"/>
<line x1="170.9" y1="635.4" x2="189.3" y2="635.4" stroke="#232382" stroke-width="1.3"/>
<line x1="183.1" y1="624.2" x2="187.5" y2="624.2" stroke="#232382" stroke-width="1.3"/>
<line x1="185.3" y1="622" x2="185.3" y2="626.4" stroke="#232382" stroke-width="1.3"/>
<circle cx="180.1" cy="612.2" r="2.0" fill="#4e1410"/>
<line x1="239.4" y1="612.2" x2="239.4" y2="628.8" stroke="#202042" stroke-width="1.3"/>
<line x1="239.4" y1="635.4" x2="239.4" y2="651.6" stroke="#202042" stroke-width="1.3"/>
<rect x="230.2" y="628.8" width="18.4" height="3.6" fill="#fffce9" stroke="#232382" stroke-width="1.0"/>
<line x1="230.2" y1="635.4" x2="248.6" y2="635.4" stroke="#232382" stroke-width="1.3"/>
<line x1="242.4" y1="624.2" x2="246.8" y2="624.2" stroke="#232382" stroke-width="1.3"/>
<line x1="244.6" y1="622" x2="244.6" y2="626.4" stroke="#232382" stroke-width="1.3"/>
<circle cx="239.4" cy="612.2" r="2.0" fill="#4e1410"/>
<circle cx="180.1" cy="651.6" r="2.0" fill="#4e1410"/>
<circle cx="239.4" cy="651.6" r="2.0" fill="#4e1410"/>
<rect x="328.4" y="602.4" width="49.3" height="48.8" fill="#f6ee98" stroke="#a09a6c" stroke-width="1.0"/>
<text x="333.6" y="615" font-family="'Liberation Serif', serif" font-size="8" fill="#5a5020" stroke="#5a5020" stroke-width="0.3" >+</text>
<text x="334.6" y="644.4" font-family="'Liberation Serif', serif" font-size="9" fill="#5a5020" stroke="#5a5020" stroke-width="0.3" >-</text>
<text x="359.4" y="615.4" font-family="'Liberation Serif', serif" font-size="8.6" fill="#22222e" stroke="#22222e" stroke-width="0.4" >AC</text>
<text x="359.4" y="645" font-family="'Liberation Serif', serif" font-size="8.6" fill="#22222e" stroke="#22222e" stroke-width="0.4" >AC</text>
<text x="310" y="610.2" font-family="'Liberation Serif', serif" font-size="8.6" fill="#1a1a22" stroke="#1a1a22" stroke-width="0.45" >3</text>
<text x="310" y="639.8" font-family="'Liberation Serif', serif" font-size="8.6" fill="#1a1a22" stroke="#1a1a22" stroke-width="0.45" >4</text>
<text x="204" y="565" font-family="'Liberation Serif', serif" font-size="8.6" fill="#1c1c36" stroke="#1c1c36" stroke-width="0.3" >L1</text>
<text x="188.4" y="575.6" font-family="'Liberation Serif', serif" font-size="8.6" fill="#1c1c36" stroke="#1c1c36" stroke-width="0.3" >2H/300mA</text>
<text x="199.4" y="624.2" font-family="'Liberation Serif', serif" font-size="8.6" fill="#1c1c36" stroke="#1c1c36" stroke-width="0.3" >L1</text>
<text x="188.4" y="635" font-family="'Liberation Serif', serif" font-size="8.6" fill="#1c1c36" stroke="#1c1c36" stroke-width="0.3" >2H/300mA</text>
<text x="155.8" y="520.8" font-family="'Liberation Serif', serif" font-size="8.6" fill="#1c1c36" stroke="#1c1c36" stroke-width="0.3" >C11</text>
<text x="146" y="535" font-family="'Liberation Serif', serif" font-size="8.6" fill="#1c1c36" stroke="#1c1c36" stroke-width="0.3" >4700UF/16V</text>
<text x="245" y="525.2" font-family="'Liberation Serif', serif" font-size="8.6" fill="#1c1c36" stroke="#1c1c36" stroke-width="0.3" >C11</text>
<text x="240" y="540" font-family="'Liberation Serif', serif" font-size="8.6" fill="#1c1c36" stroke="#1c1c36" stroke-width="0.3" >15000UF/16V</text>
<text x="343.4" y="530.8" font-family="'Liberation Serif', serif" font-size="8.6" fill="#1c1c36" stroke="#1c1c36" stroke-width="0.3" >VD2</text>
<text x="343.4" y="541" font-family="'Liberation Serif', serif" font-size="8.6" fill="#1c1c36" stroke="#1c1c36" stroke-width="0.3" >SR807</text>
<text x="343.4" y="660.2" font-family="'Liberation Serif', serif" font-size="8.6" fill="#1c1c36" stroke="#1c1c36" stroke-width="0.3" >VD2</text>
<text x="343.4" y="669.2" font-family="'Liberation Serif', serif" font-size="8.6" fill="#1c1c36" stroke="#1c1c36" stroke-width="0.3" >SR807</text>
<text x="155.8" y="663.4" font-family="'Liberation Serif', serif" font-size="8.6" fill="#1c1c36" stroke="#1c1c36" stroke-width="0.3" >C11</text>
<text x="155.8" y="672.8" font-family="'Liberation Serif', serif" font-size="8.6" fill="#1c1c36" stroke="#1c1c36" stroke-width="0.3" >4700UF/16V</text>
<text x="235" y="663.4" font-family="'Liberation Serif', serif" font-size="8.6" fill="#1c1c36" stroke="#1c1c36" stroke-width="0.3" >C11</text>
<text x="235" y="672.8" font-family="'Liberation Serif', serif" font-size="8.6" fill="#1c1c36" stroke="#1c1c36" stroke-width="0.3" >15000UF/16V</text>
<text x="81.6" y="570.2" font-family="'Liberation Serif', serif" font-size="13" fill="#ad2c22" stroke="#ad2c22" stroke-width="0.3" font-weight="bold" textLength="74" lengthAdjust="spacingAndGlyphs">DC4V300mA</text>
<text x="76.6" y="634.2" font-family="'Liberation Serif', serif" font-size="13" fill="#ad2c22" stroke="#ad2c22" stroke-width="0.3" font-weight="bold" textLength="83" lengthAdjust="spacingAndGlyphs">DC4V(300mA)</text>
<!-- watermarks -->
<g font-family="'Liberation Sans', sans-serif" font-weight="bold">
<g fill="#8e8e86" stroke="#8e8e86" stroke-width="1.2" opacity="0.55" filter="url(#sh)" transform="translate(1.6,2.2)">
<use href="#wm"/>
</g>
<g fill="#fdfdf8" fill-opacity="0.9" stroke="#85857b" stroke-width="0.9" stroke-linejoin="round">
<use href="#wm"/>
</g>
<text x="1049.5" y="824.2" font-size="20.5" font-style="italic" fill="url(#tg)" stroke="url(#tg)" stroke-width="1.0" stroke-linejoin="round" textLength="117" lengthAdjust="spacingAndGlyphs">www.tubebbs.com</text>
</g>
</svg>
</body></html>
